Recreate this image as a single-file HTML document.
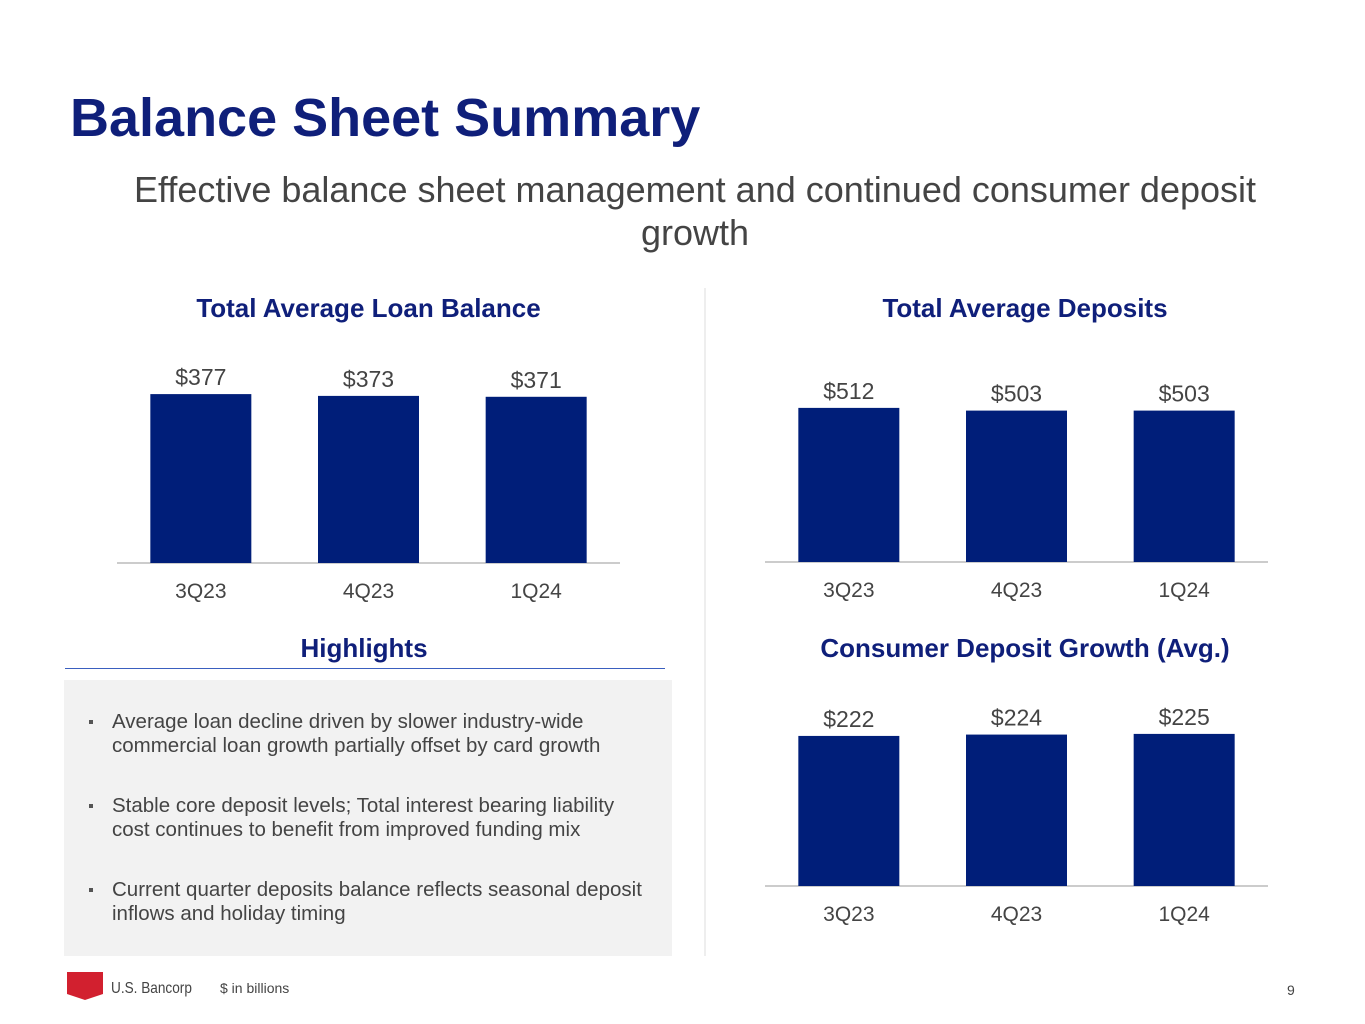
<!DOCTYPE html>
<html><head><meta charset="utf-8">
<style>
body{margin:0;width:1365px;height:1024px;background:#fff;font-family:"Liberation Sans",sans-serif;position:relative;overflow:hidden}
.abs{position:absolute}
h1{position:absolute;left:70px;top:87px;margin:0;font-size:54px;font-weight:bold;color:#0f1f7a;letter-spacing:0}
.sub{left:60px;width:1270px;top:168px;text-align:center;font-size:36px;color:#444;line-height:43px}
.ct{font-size:26px;font-weight:bold;color:#0f1f7a;text-align:center}
.hl{left:64px;top:680px;width:608px;height:276px;background:#f2f2f2}
.hl ul{margin:0;padding:0;list-style:none;position:absolute;left:48px;top:30px;width:530px}
.hl li{font-size:20.5px;color:#444;line-height:24px;margin-bottom:36px;position:relative}
.hl li:before{content:"";position:absolute;left:-23px;top:10px;width:4px;height:4px;background:#555}
</style></head><body>
<h1>Balance Sheet Summary</h1>
<div class="abs sub">Effective balance sheet management and continued consumer deposit<br>growth</div>
<div class="abs" style="left:704px;top:288px;width:2px;height:668px;background:#eee"></div>
<div class="abs ct" style="left:117px;width:503px;top:293px">Total Average Loan Balance</div>
<div class="abs ct" style="left:765px;width:520px;top:293px">Total Average Deposits</div>
<div class="abs ct" style="left:64px;width:600px;top:633px">Highlights</div>
<div class="abs" style="left:65px;top:668px;width:600px;height:1px;background:#3a5fbf"></div>
<div class="abs ct" style="left:765px;width:520px;top:633px">Consumer Deposit Growth (Avg.)</div>
<div class="abs hl"><ul>
<li>Average loan decline driven by slower industry-wide commercial loan growth partially offset by card growth</li>
<li>Stable core deposit levels; Total interest bearing liability cost continues to benefit from improved funding mix</li>
<li>Current quarter deposits balance reflects seasonal deposit inflows and holiday timing</li>
</ul></div>
<svg class="abs" style="left:67px;top:972px" width="37" height="30"><path d="M0 0H36V22L18 28L0 22Z" fill="#d2202f"/></svg>
<div class="abs" style="left:111px;top:980px;font-size:16px;color:#444;transform:scaleX(0.85);transform-origin:left">U.S. Bancorp</div>
<div class="abs" style="left:220px;top:980px;font-size:14px;color:#444">$ in billions</div>
<div class="abs" style="left:1287px;top:982px;font-size:14px;color:#444">9</div>
<svg id="charts" class="abs" style="left:0;top:0" width="1365" height="1024"></svg>
<script>
const categories=["3Q23","4Q23","1Q24"];
const loanValues=[377,373,371];
const depositValues=[512,503,503];
const consumerValues=[222,224,225];
const NS="http://www.w3.org/2000/svg";
const svg=document.getElementById('charts');
function mk(t,a){const e=document.createElementNS(NS,t);for(const k in a)e.setAttribute(k,a[k]);svg.appendChild(e);return e;}
function chart(name,vals,x0,x1,base,scale,catY){
  const ax=mk('line',{x1:x0,x2:x1,y1:base,y2:base,stroke:'#bbb','stroke-width':1.5});
  
  
  const step=(x1-x0)/3, bw=101;
  vals.forEach((v,i)=>{
    const cx=x0+step*(i+0.5), h=v*scale;
    const r=mk('rect',{x:cx-bw/2,y:base-h,width:bw,height:h,fill:'#001e79'});
    
    
    const t=mk('text',{x:cx,y:base-h-9,'text-anchor':'middle','font-size':23,fill:'#444','font-family':'Liberation Sans'});
    t.textContent='$'+v;
    
    
    const c=mk('text',{x:cx,y:catY,'text-anchor':'middle','font-size':21,fill:'#444','font-family':'Liberation Sans'});
    c.textContent=categories[i];
    
    
  });
}
chart('loan',loanValues,117,620,563,0.448,598);
chart('deposits',depositValues,765,1268,562,0.301,597);
chart('consumer',consumerValues,765,1268,886,0.676,921);
</script>
</body></html>
